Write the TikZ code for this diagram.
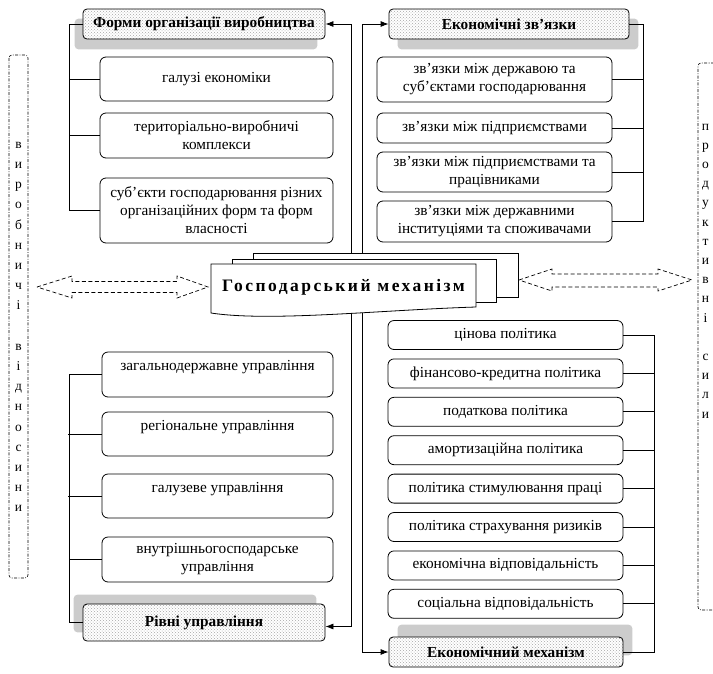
\documentclass[tikz,border=0pt]{standalone}
\usepackage{fontspec}
\setmainfont{Liberation Serif}
\usetikzlibrary{arrows.meta,patterns,backgrounds}
\begin{document}
\begin{tikzpicture}[x=1pt,y=-1pt,
  bx/.style={draw, line width=0.8pt, rounded corners=6pt, fill=white, align=center, font=\fontsize{15.3}{18}\selectfont, inner sep=2pt},
  hdr/.style={draw, line width=0.8pt, rounded corners=4pt, preaction={fill=white}, pattern=crosshatch dots, pattern color=gray!70, font=\fontsize{15.3}{17}\selectfont\bfseries, inner sep=0pt},
  shd/.style={fill=gray!40, rounded corners=4pt},
  ln/.style={line width=0.8pt},
  arr/.style={line width=0.8pt, -{Latex[length=8pt,width=6pt]}},
  dsh/.style={line width=0.7pt, dash pattern=on 4pt off 2.5pt},
  ddot/.style={line width=0.6pt, dash pattern=on 3pt off 1.5pt on 0.8pt off 1.5pt, rounded corners=3pt},
  side/.style={align=center, inner sep=0pt}
]
\useasboundingbox (0,0) rectangle (713,673);

% side boxes
\draw[ddot] (9,55) rectangle (28,578);
\draw[ddot] (714,63) -- (698,63) -- (698,610) -- (714,610);
\node[side, font=\fontsize{13.5}{20.2}\selectfont] (lv) at (18.5,327) {в\\и\\р\\о\\б\\н\\и\\ч\\і\\\mbox{}\\в\\і\\д\\н\\о\\с\\и\\н\\и};
\node[side, font=\fontsize{13.5}{19.2}\selectfont] (rv) at (705.5,271) {п\\р\\о\\д\\у\\к\\т\\и\\в\\н\\і\\\mbox{}\\с\\и\\л\\и};

% top-left group
\node[hdr, minimum width=242, minimum height=30] (h1) at (204,24) {Форми організації виробництва};
\node[bx, minimum width=233, minimum height=44] (a1) at (216.5,79) {галузі економіки};
\node[bx, minimum width=233, minimum height=45] (a2) at (216.5,135.5) {територіально-виробничі\\комплекси};
\node[bx, minimum width=233, minimum height=65] (a3) at (216.5,210.5) {суб’єкти господарювання різних\\організаційних форм та форм\\власності};

% top-right group
\node[hdr, minimum width=240, minimum height=30] (h2) at (509,24) {Економічні зв’язки};
\node[bx, minimum width=235, minimum height=45] (e1) at (494.5,79.5) {зв’язки між державою та\\суб’єктами господарювання};
\node[bx, minimum width=235, minimum height=30] (e2) at (494.5,128) {зв’язки між підприємствами};
\node[bx, minimum width=235, minimum height=40] (e3) at (494.5,172) {зв’язки між підприємствами та\\працівниками};
\node[bx, minimum width=235, minimum height=41] (e4) at (494.5,221.5) {зв’язки між державними\\інституціями та споживачами};

% bottom-left group
\node[bx, minimum width=231, minimum height=45] (c1) at (217.5,374.5) {загальнодержавне управління\\\mbox{}};
\node[bx, minimum width=231, minimum height=44] (c2) at (217.5,434) {регіональне управління\\\mbox{}};
\node[bx, minimum width=231, minimum height=44] (c3) at (217.5,496) {галузеве управління\\\mbox{}};
\node[bx, minimum width=231, minimum height=45] (c4) at (217.5,559.5) {внутрішньогосподарське\\управління};
\node[hdr, minimum width=242, minimum height=37] (h3) at (204,622.5) {Рівні управління};

% bottom-right group
\node[bx, minimum width=235, minimum height=29] (p1) at (505.5,335) {цінова політика};
\node[bx, minimum width=235, minimum height=29] (p2) at (505.5,373.4) {фінансово-кредитна політика};
\node[bx, minimum width=235, minimum height=29] (p3) at (505.5,411.8) {податкова політика};
\node[bx, minimum width=235, minimum height=29] (p4) at (505.5,450.2) {амортизаційна політика};
\node[bx, minimum width=235, minimum height=29] (p5) at (505.5,488.6) {політика стимулювання праці};
\node[bx, minimum width=235, minimum height=29] (p6) at (505.5,527) {політика страхування ризиків};
\node[bx, minimum width=235, minimum height=29] (p7) at (505.5,565.4) {економічна відповідальність};
\node[bx, minimum width=235, minimum height=29] (p8) at (505.5,603.8) {соціальна відповідальність};
\node[hdr, minimum width=234, minimum height=30] (h4) at (506,652) {Економічний механізм};

% background and shadows
\begin{pgfonlayer}{background}
\fill[white] (0,0) rectangle (713,673);
\fill[shd] ([shift={(-8,10)}]h1.north west) rectangle ([shift={(-8,10)}]h1.south east);
\fill[shd] ([shift={(9,10)}]h2.north west) rectangle ([shift={(9,10)}]h2.south east);
\fill[shd] ([shift={(-9,-9)}]h3.north west) rectangle ([shift={(-9,-9)}]h3.south east);
\fill[shd] ([shift={(9,-12)}]h4.north west) rectangle ([shift={(9,-12)}]h4.south east);
\end{pgfonlayer}

% central stack
\draw[ln, fill=white] (253,253) rectangle (518,297);
\draw[ln, fill=white] (232,259) rectangle (496,302);
\draw[ln, fill=white] (211,264) -- (476,264) -- (476,307) .. controls (380,310) and (270,322) .. (211,313) -- cycle;
\node[inner sep=0pt, font=\fontsize{17.5}{20}\selectfont\bfseries\addfontfeature{LetterSpace=14}] (gm) at (343.5,287) {Господарський механізм};

\coordinate (s1) at (351,253);
\coordinate (s2) at (362,253);
\coordinate (w1) at (351,314);
\coordinate (w2) at (362,313);

\draw[arr] (s1) |- (h1.east);
\draw[arr] (s2) |- (h2.west);
\draw[arr] (w1) |- ([yshift=-4pt]h3.east);
\draw[arr] (w2) |- (h4.west);

% brackets
\draw[ln] (h1.west) -- ++(-13,0) |- (a3.west);
\draw[ln] (a1.west) -- ++(-30,0);
\draw[ln] (a2.west) -- ++(-30,0);

\draw[ln] (h2.east) -- ++(14,0) |- (e4.east);
\foreach \n in {e1,e2,e3} \draw[ln] (\n.east) -- ++(31,0);

\draw[ln] (c1.west) -- ++(-32,0) |- (h3.west);
\draw[ln] (c2.west) -- ++(-34,0);
\draw[ln] (c3.west) -- ++(-34,0);
\draw[ln] (c4.west) -- ++(-32,0);

\draw[ln] (p1.east) -- ++(31,0) |- (h4.east);
\foreach \n in {p2,p3,p4,p5,p6,p7,p8} \draw[ln] (\n.east) -- ++(31,0);

% dashed double arrows
\draw[dsh] (37,287) -- (72,276) -- (72,281.5) -- (177,281.5) -- (177,276) -- (208,287) -- (177,298) -- (177,292.5) -- (72,292.5) -- (72,298) -- cycle;
\draw[dsh] (519,280) -- (552,269) -- (552,274) -- (658,274) -- (658,269) -- (692,280) -- (658,291) -- (658,287) -- (552,287) -- (552,291) -- cycle;
\end{tikzpicture}
\end{document}
